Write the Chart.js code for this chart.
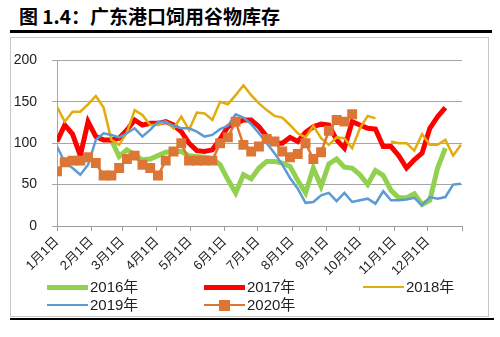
<!DOCTYPE html>
<html>
<head>
<meta charset="utf-8">
<script src="https://cdn.jsdelivr.net/npm/chart.js@4.4.1/dist/chart.umd.min.js"></script>
<style>
  body { margin:0; width:500px; height:337px; background:#fff; position:relative; overflow:hidden;
         font-family:"Liberation Sans","Noto Sans CJK SC",sans-serif; }
  #title { position:absolute; left:19px; top:2px; font:bold 19px "Noto Sans CJK SC",sans-serif; color:#000; white-space:nowrap; }
  #rule1 { position:absolute; left:10px; top:30px; width:482px; height:3px; background:#000; }
  #box { position:absolute; left:10px; top:37px; width:477px; height:278px; border:1px solid #c8c8c8; }
  #wrap { position:absolute; left:10px; top:37px; width:478px; height:245px; }
  #rule2 { position:absolute; left:10px; top:318px; width:484px; height:2px; background:#000; }
  .lg { position:absolute; height:18px; font-size:15px; color:#222; white-space:nowrap; }
  .lg .ln { position:absolute; left:0; width:41px; }
  .lg .mk { position:absolute; left:15px; top:4px; width:11px; height:11px; }
  .lg span { position:absolute; left:43px; top:0; line-height:18px; }
</style>
</head>
<body>
<div id="title">图 1.4：广东港口饲用谷物库存</div>
<div id="rule1"></div>
<div id="box"></div>
<div id="wrap"><canvas id="c" width="478" height="245"></canvas></div>
<div id="legend"></div>
<div id="rule2"></div>
<script>
// 周数据（按一年中的第几天）
var weekDay = [0,7,14,21,28,35,42,49,56,63,70,77,84,91,98,105,112,119,126,133,140,147,154,161,168,175,
  182,189,196,203,210,217,224,231,238,245,252,259,266,273,280,287,294,301,308,315,322,329,336,343,350,357,364];

var monthStart = [0,31,59,90,120,151,181,212,243,273,304,334,365];
var monthLabels = ['1月1日','2月1日','3月1日','4月1日','5月1日','6月1日','7月1日','8月1日','9月1日','10月1日','11月1日','12月1日',''];

var seriesNames = ['2016年','2017年','2018年','2019年','2020年'];

var s2016 = [null,null,null,null,null,null,null,104,84,92,86,80,81,85,89,90,90,85,84,83,81,74,56,40,62,57,
  70,78,78,76,72,55,40,70,48,75,81,71,70,62,50,67,61,43,34,34,39,26,31,70,94,null,null];
var s2017 = [102,122,111,85,126,108,104,104,106,116,128,122,124,124,126,122,114,100,91,90,92,105,120,124,128,128,
  120,108,100,100,107,102,113,120,123,122,104,94,126,122,118,117,96,96,85,70,80,88,118,132,143,null,null];
var s2018 = [144,126,138,138,147,157,143,104,98,113,140,134,122,122,126,118,132,116,137,136,128,150,147,158,170,158,
  148,140,133,131,122,112,107,121,106,98,107,106,94,118,133,130,null,102,100,100,91,111,98,98,104,85,98];
var s2019 = [96,77,70,62,74,104,112,110,107,112,118,108,116,126,126,121,118,118,114,108,110,117,121,135,131,123,
  112,100,88,74,58,45,28,29,37,40,30,40,29,31,33,27,42,31,31,32,34,25,35,33,35,50,51];
var s2020 = [66,77,79,79,83,76,61,61,70,81,85,74,70,61,79,90,100,79,79,79,79,100,107,126,98,90,
  96,105,102,90,83,87,100,81,89,115,128,126,135,null,null,null,null,null,null,null,null,null,null,null,null,null,null];

var colors = ['#92d050','#ff0000','#e2ac0c','#5b9bd5','#dc7634'];
var widths = [5,5,2.5,2.5,2.5];
var allSeries = [s2016,s2017,s2018,s2019,s2020];

function toPoints(arr){
  return arr.map(function(v,i){ return {x: weekDay[i], y: v}; });
}

var datasets = allSeries.map(function(arr,k){
  var isMarker = k == 4;
  return {
    label: seriesNames[k],
    data: toPoints(arr),
    borderColor: colors[k],
    backgroundColor: colors[k],
    borderWidth: widths[k],
    pointStyle: 'rect',
    pointRadius: isMarker ? 7 : 0,
    pointBorderWidth: 0,
    tension: 0,
    order: 5 - k
  };
});

var tickFont = {family:'"Liberation Sans","Noto Sans CJK SC",sans-serif', size:13};

new Chart(document.getElementById('c'), {
  type: 'line',
  data: {datasets: datasets},
  options: {
    responsive: false,
    animation: false,
    layout: {padding: {left:0, top:10, right:26, bottom:6}},
    plugins: {legend: {display:false}, tooltip: {enabled:false}},
    scales: {
      x: {
        type: 'linear', min: 0, max: 365,
        afterBuildTicks: function(scale){
          scale.ticks = monthStart.map(function(v){ return {value: v}; });
        },
        afterFit: function(scale){ scale.height = 50; },
        ticks: {
          autoSkip: false, minRotation: 45, maxRotation: 45, padding: 3,
          color: '#222', font: tickFont,
          callback: function(v){ var i = monthStart.indexOf(v); return i < 0 ? '' : monthLabels[i]; }
        },
        grid: {drawOnChartArea: false, drawTicks: true, tickLength: 5, color: '#9a9a9a'},
        border: {color: '#9a9a9a'}
      },
      y: {
        min: 0, max: 200,
        afterFit: function(scale){ scale.width = 47; },
        ticks: {stepSize: 50, padding: 15, color: '#222', font: {family:'"Liberation Sans",sans-serif', size:14}},
        grid: {color: '#a6a6a6', tickLength: 5, drawTicks: true},
        border: {color: '#a6a6a6'}
      }
    }
  }
});

// 图例：三列两行
var legendPos = [[47,278],[204,278],[363,278],[47,296],[204,296]];
var lg = document.getElementById('legend');
seriesNames.forEach(function(name,k){
  var d = document.createElement('div');
  d.className = 'lg';
  d.style.left = legendPos[k][0] + 'px';
  d.style.top = legendPos[k][1] + 'px';
  var w = widths[k];
  var html = '<div class="ln" style="top:' + (9 - w/2) + 'px;height:' + w + 'px;background:' + colors[k] + '"></div>';
  if (k == 4) html += '<div class="mk" style="background:' + colors[k] + '"></div>';
  html += '<span>' + name + '</span>';
  d.innerHTML = html;
  lg.appendChild(d);
});
</script>
</body>
</html>
